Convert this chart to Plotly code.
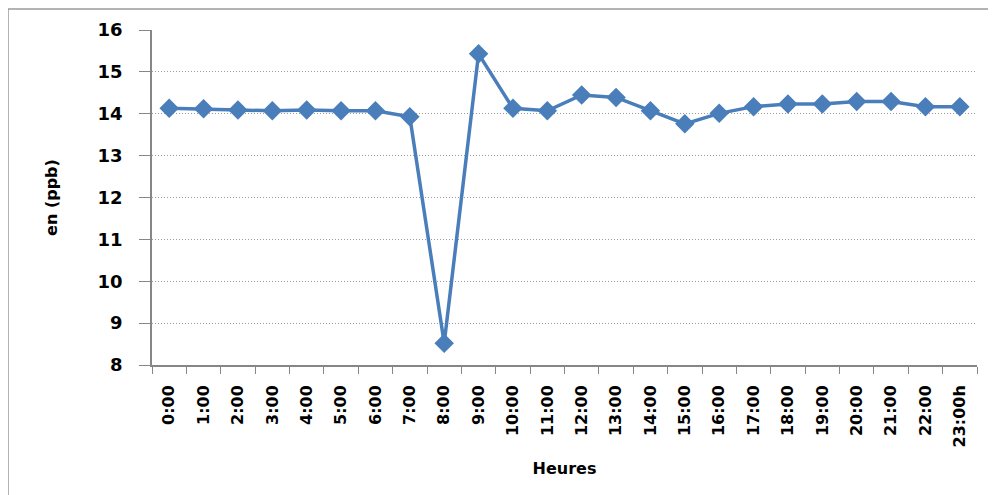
import plotly.graph_objects as go

hours = ["0:00", "1:00", "2:00", "3:00", "4:00", "5:00", "6:00", "7:00", "8:00", "9:00",
         "10:00", "11:00", "12:00", "13:00", "14:00", "15:00", "16:00", "17:00", "18:00",
         "19:00", "20:00", "21:00", "22:00", "23:00h"]
values = [14.13, 14.12, 14.09, 14.07, 14.09, 14.07, 14.07, 13.93, 8.52, 15.43,
          14.13, 14.07, 14.45, 14.39, 14.07, 13.76, 14.01, 14.17, 14.23,
          14.23, 14.29, 14.29, 14.17, 14.17]
y_ticks = [8, 9, 10, 11, 12, 13, 14, 15, 16]

color = "#4A7EBB"
font = "DejaVu Sans, Verdana, sans-serif"

fig = go.Figure(go.Scatter(
    x=hours, y=values, mode="lines+markers",
    line=dict(color=color, width=3.5),
    marker=dict(symbol="diamond", size=15, color=color),
))

# page body has an 8px margin: figure starts at (8, 8)
fig.update_layout(
    width=988, height=487,
    margin=dict(l=144, r=19, t=22, b=130),
    paper_bgcolor="white", plot_bgcolor="white",
    showlegend=False,
    font=dict(family=font, color="black"),
    xaxis=dict(
        type="category", tickson="boundaries", ticks="outside", ticklen=7,
        tickcolor="#868686", showline=True, linecolor="#868686", linewidth=1.5,
        showgrid=False, tickangle=-90, ticklabelstandoff=12,
        tickfont=dict(size=16, family=font, weight="bold"),
        title=dict(text="<b>Heures</b>", font=dict(size=16), standoff=16),
        range=[-0.5, 23.5],
    ),
    yaxis=dict(
        range=[8, 16], tickvals=y_ticks, ticks="outside", ticklen=11,
        tickcolor="#868686", showline=True, linecolor="#868686", linewidth=1.5,
        showgrid=True, gridcolor="#9a9a9a", griddash="1px,2px", gridwidth=1,
        tickfont=dict(size=18, family=font, weight="bold"),
        ticklabelstandoff=13,
        title=dict(text="<b>en (ppb)</b>", font=dict(size=16), standoff=36),
        zeroline=False,
    ),
    shapes=[dict(
        type="rect", xref="paper", yref="paper",
        x0=(8 - 152) / 825, x1=(1000 - 152) / 825,
        y0=-(500 - 365) / 335, y1=1 + (30 - 9) / 335,
        line=dict(color="#9a9a9a", width=1.5), fillcolor="rgba(0,0,0,0)", layer="below",
    )],
)

fig.write_html("out.html")
